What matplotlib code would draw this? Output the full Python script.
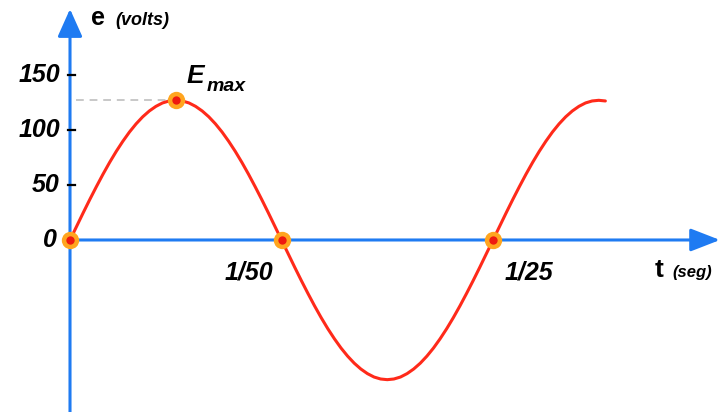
import matplotlib
matplotlib.use("Agg")
import matplotlib.pyplot as plt

# time (s) and voltage (V)
t_vals = [0.0, 0.000625, 0.00125, 0.001875, 0.0025, 0.003125, 0.00375, 0.004375,
          0.005, 0.005625, 0.00625, 0.006875, 0.0075, 0.008125, 0.00875, 0.009375,
          0.01, 0.010625, 0.01125, 0.011875, 0.0125, 0.013125, 0.01375, 0.014375,
          0.015, 0.015625, 0.01625, 0.016875, 0.0175, 0.018125, 0.01875, 0.019375,
          0.02, 0.020625, 0.02125, 0.021875, 0.0225, 0.023125, 0.02375, 0.024375,
          0.025, 0.025625, 0.02625, 0.026875, 0.0275, 0.028125, 0.02875, 0.029375,
          0.03, 0.030625, 0.03125, 0.031875, 0.0325, 0.033125, 0.03375, 0.034375,
          0.035, 0.035625, 0.03625, 0.036875, 0.0375, 0.038125, 0.03875, 0.039375,
          0.04, 0.040625, 0.04125, 0.041875, 0.0425, 0.043125, 0.04375, 0.044375,
          0.045, 0.045625, 0.04625, 0.046875, 0.0475, 0.048125, 0.04875, 0.049375,
          0.05, 0.050625]
e_vals = [0, 12.4, 24.8, 36.9, 48.6, 59.9, 70.6, 80.6,
          89.8, 98.2, 105.6, 112.0, 117.3, 121.5, 124.6, 126.4,
          127, 126.4, 124.6, 121.5, 117.3, 112.0, 105.6, 98.2,
          89.8, 80.6, 70.6, 59.9, 48.6, 36.9, 24.8, 12.4,
          0, -12.4, -24.8, -36.9, -48.6, -59.9, -70.6, -80.6,
          -89.8, -98.2, -105.6, -112.0, -117.3, -121.5, -124.6, -126.4,
          -127, -126.4, -124.6, -121.5, -117.3, -112.0, -105.6, -98.2,
          -89.8, -80.6, -70.6, -59.9, -48.6, -36.9, -24.8, -12.4,
          0, 12.4, 24.8, 36.9, 48.6, 59.9, 70.6, 80.6,
          89.8, 98.2, 105.6, 112.0, 117.3, 121.5, 124.6, 126.4,
          127, 126.4]

# highlighted points
mark_t = [0.0, 0.01, 0.02, 0.04]
mark_e = [0, 127, 0, 0]
E_MAX = 127

y_ticks = [150, 100, 50]
y_tick_labels = ["150", "100", "50"]
x_ticks = [0.02, 0.04]
x_tick_labels = ["1/50", "1/25"]

BLUE = "#1f7bf2"
RED = "#ff2a1a"
ORANGE = "#ffa51f"

fig = plt.figure(figsize=(7.21, 4.12), dpi=100)
ax = fig.add_axes([0, 0, 1, 1])
ax.set_xlim(-0.00662, 0.06156)
ax.set_ylim(-156.4, 218.2)
ax.axis("off")

font = ["Liberation Sans", "DejaVu Sans"]
bi = dict(fontweight="bold", fontstyle="italic", family=font)

# axes with arrow heads
ax.annotate("", xy=(0.06146, 0), xytext=(0, 0),
            arrowprops=dict(arrowstyle="-|>,head_length=0.9,head_width=0.35",
                            color=BLUE, lw=2.2, shrinkA=0, shrinkB=0,
                            mutation_scale=20))
ax.annotate("", xy=(0, 210), xytext=(0, -160),
            arrowprops=dict(arrowstyle="-|>,head_length=0.85,head_width=0.38",
                            color=BLUE, lw=2.2, shrinkA=0, shrinkB=0,
                            mutation_scale=20))

# tick dashes and labels on the vertical axis
for yv, lab in zip(y_ticks, y_tick_labels):
    ax.plot([-0.0002, 0.00045], [yv, yv], color="black", lw=1.6, zorder=4)
    ax.text(-0.00095, yv, lab, ha="right", va="center", fontsize=18, **bi)
ax.text(-0.0012, 0, "0", ha="right", va="center", fontsize=18, **bi)

# labels under the time axis
ax.text(x_ticks[0] - 0.0008, -35.5, x_tick_labels[0], ha="right",
        va="baseline", fontsize=18, **bi)
ax.text(x_ticks[1] + 0.0011, -35.5, x_tick_labels[1], ha="left",
        va="baseline", fontsize=18, **bi)

# dashed guide to Emax
ax.plot([0.0006, 0.0096], [E_MAX, E_MAX], color="#c8c8c8", lw=1.4,
        dashes=(4, 3), zorder=2)

# the sine curve
ax.plot(t_vals, e_vals, color=RED, lw=2.2, zorder=3, solid_capstyle="round")

# marked points
ax.plot(mark_t, mark_e, "o", ms=12.5, color=ORANGE, mec="none", zorder=5)
ax.plot(mark_t, mark_e, "o", ms=6, color="#ee1a10", mec="none", zorder=6)

# axis titles
ax.text(0.0020, 195.5, "e", ha="left", va="baseline", fontsize=18,
        fontweight="bold", family=font)
ax.text(0.00425, 195.5, "(volts)", ha="left", va="baseline", fontsize=13, **bi)
ax.text(0.0553, -33.6, "t", ha="left", va="baseline", fontsize=19,
        fontweight="bold", family=font)
ax.text(0.0570, -33.6, "(seg)", ha="left", va="baseline", fontsize=12, **bi)

# Emax label
ax.text(0.01106, 142.7, "E", ha="left", va="baseline", fontsize=19, **bi)
ax.text(0.01296, 135.5, "max", ha="left", va="baseline", fontsize=14, **bi)

fig.savefig("out.png", dpi=100)
